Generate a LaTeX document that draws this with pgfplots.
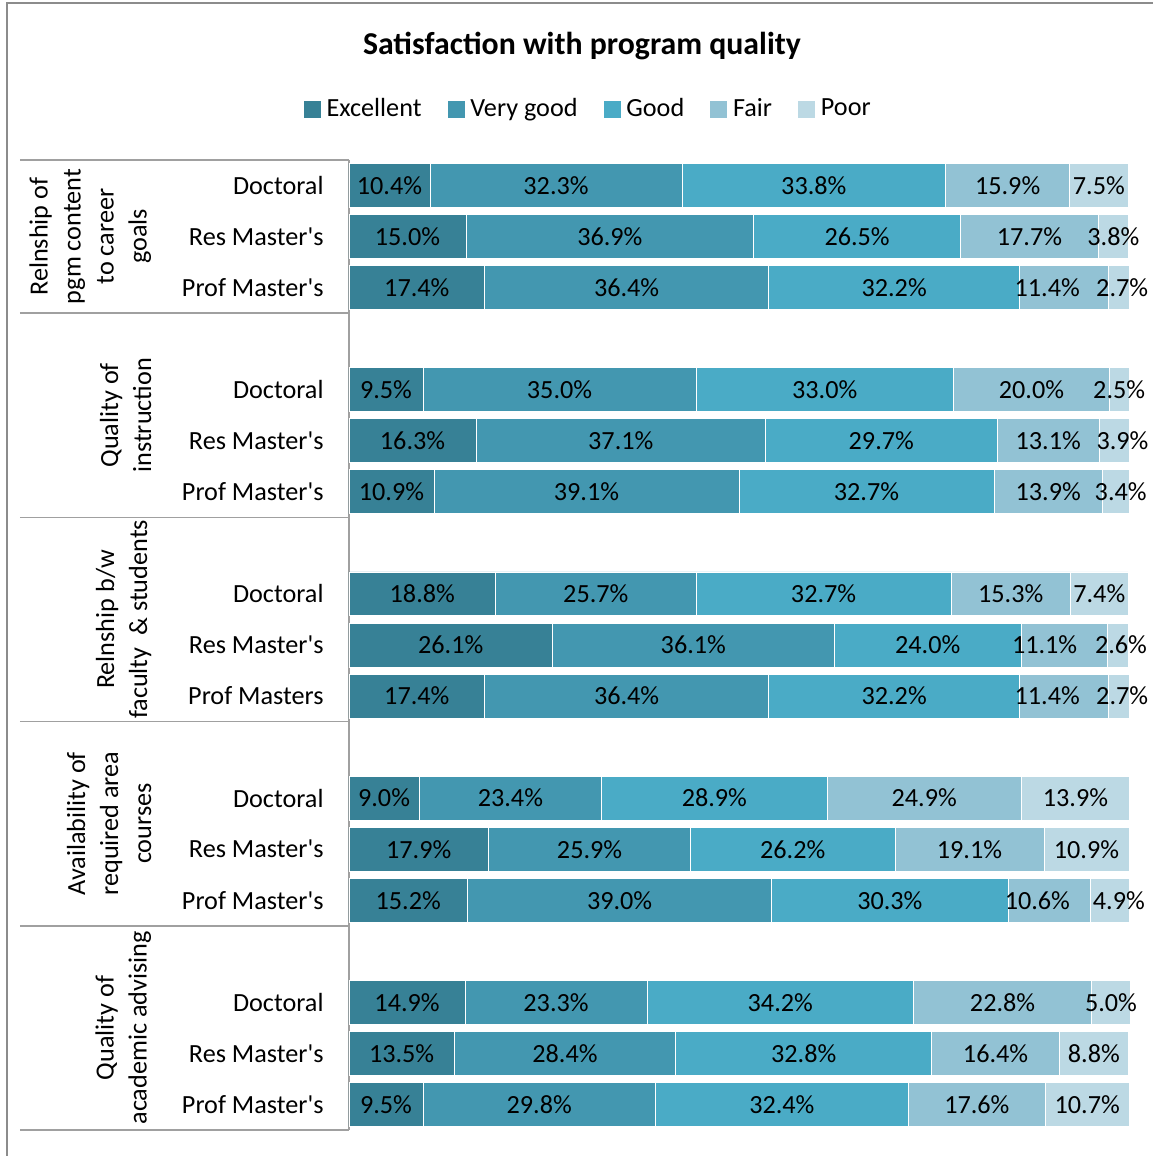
\documentclass[border=0pt]{standalone}
\usepackage{fontspec}
\setmainfont{Carlito}
\usepackage{pgfplots}
\pgfplotsset{compat=1.18}
\usepackage{pgfplotstable}
\definecolor{cEx}{RGB}{55,129,150}
\definecolor{cVg}{RGB}{67,151,176}
\definecolor{cGd}{RGB}{74,171,198}
\definecolor{cFr}{RGB}{146,194,212}
\definecolor{cPr}{RGB}{188,217,228}
\definecolor{lineGray}{RGB}{160,160,160}
\definecolor{frameGray}{RGB}{140,140,140}
\newcommand\lbl{\fontsize{13.1pt}{16.5pt}\selectfont}

% fs, ps: horizontal nudges (px) of the Fair and Poor data labels
\pgfplotstableread{
slot ex vg gd fr pr fs ps
0 10.4 32.3 33.8 15.9 7.5 0 0
1 15.0 36.9 26.5 17.7 3.8 0 0
2 17.4 36.4 32.2 11.4 2.7 -17 3
4 9.5 35.0 33.0 20.0 2.5 0 0
5 16.3 37.1 29.7 13.1 3.9 0 8
6 10.9 39.1 32.7 13.9 3.4 0 5
8 18.8 25.7 32.7 15.3 7.4 0 0
9 26.1 36.1 24.0 11.1 2.6 -20 3
10 17.4 36.4 32.2 11.4 2.7 -17 3
12 9.0 23.4 28.9 24.9 13.9 0 0
13 17.9 25.9 26.2 19.1 10.9 0 0
14 15.2 39.0 30.3 10.6 4.9 -12 9
16 14.9 23.3 34.2 22.8 5.0 0 0
17 13.5 28.4 32.8 16.4 8.8 0 0
18 9.5 29.8 32.4 17.6 10.7 0 0
}\data

\pgfplotsset{
 segment/.style={
   fill=#1, draw=white, line width=0.4pt,
   legend image code/.code={\fill[#1] (0pt,-4pt) rectangle (8pt,4pt);},
   visualization depends on=rawx \as \rawx,
   nodes near coords={\pgfmathprintnumber[fixed,fixed zerofill,precision=1,assume math mode=true]{\rawx}\%},
   every node near coord/.append style={anchor=center, font=\lbl, text=black, inner sep=0pt},
 },
 lshift/.style={
   visualization depends on={\thisrow{#1} \as \lsh},
   every node near coord/.append style={xshift=0.5pt*\lsh},
 }
}

\begin{document}
\begin{tikzpicture}
\begin{axis}[
  scale only axis, width=390pt, height=485pt,
  xbar stacked, bar width=0.86,
  xmin=0, xmax=100, ymin=-0.5, ymax=18.5, y dir=reverse,
  axis x line=none, axis y line*=left,
  y axis line style={-, draw=lineGray, line width=0.75pt},
  ytick={0,1,2,4,5,6,8,9,10,12,13,14,16,17,18},
  yticklabels={Doctoral,Res Master\textquotesingle s,Prof Master\textquotesingle s,
               Doctoral,Res Master\textquotesingle s,Prof Master\textquotesingle s,
               Doctoral,Res Master\textquotesingle s,Prof Masters,
               Doctoral,Res Master\textquotesingle s,Prof Master\textquotesingle s,
               Doctoral,Res Master\textquotesingle s,Prof Master\textquotesingle s},
  yticklabel style={font=\lbl, anchor=east, inner sep=0pt, xshift=-12.5pt},
  major tick length=0pt, ytick style={draw=none},
  clip=false,
  legend columns=5,
  legend style={draw=none, at={(axis description cs:0.3055,1.0525)}, anchor=center, font=\lbl,
    /tikz/every odd column/.append style={column sep=3pt},
    /tikz/every even column/.append style={column sep=13pt},
    nodes={inner sep=0pt}},
  legend cell align=left,
]
\addplot[segment=cEx] table[x=ex,y=slot]{\data};
\addplot[segment=cVg] table[x=vg,y=slot]{\data};
\addplot[segment=cGd] table[x=gd,y=slot]{\data};
\addplot[segment=cFr, lshift=fs] table[x=fr,y=slot]{\data};
\addplot[segment=cPr, lshift=ps] table[x=pr,y=slot]{\data};
\legend{Excellent,Very good,Good,Fair,Poor}

\node[font=\fontsize{15.9pt}{19pt}\selectfont\bfseries] at (axis cs:29.87,-2.73) {Satisfaction with program quality};

\node[rotate=90, anchor=south, align=center, inner sep=0pt, font=\lbl] at (axis cs:-25.3,1) {Relnship of\\pgm content\\to career\\goals};
\node[rotate=90, anchor=south, align=center, inner sep=0pt, font=\lbl] at (axis cs:-25.3,4.5) {Quality of\\instruction};
\node[rotate=90, anchor=south, align=center, inner sep=0pt, font=\lbl] at (axis cs:-25.3,8.5) {Relnship b/w\\faculty\ \ \& students};
\node[rotate=90, anchor=south, align=center, inner sep=0pt, font=\lbl] at (axis cs:-25.3,12.5) {Availability of\\required area\\courses};
\node[rotate=90, anchor=south, align=center, inner sep=0pt, font=\lbl] at (axis cs:-25.3,16.5) {Quality of\\academic advising};

\draw[lineGray, line width=0.75pt] (axis cs:-42.2,-0.5) -- (axis cs:0,-0.5);
\draw[lineGray, line width=0.75pt] (axis cs:-42.2,2.5) -- (axis cs:0,2.5);
\draw[lineGray, line width=0.75pt] (axis cs:-42.2,6.5) -- (axis cs:0,6.5);
\draw[lineGray, line width=0.75pt] (axis cs:-42.2,10.5) -- (axis cs:0,10.5);
\draw[lineGray, line width=0.75pt] (axis cs:-42.2,14.5) -- (axis cs:0,14.5);
\draw[lineGray, line width=0.75pt] (axis cs:-42.2,18.5) -- (axis cs:0,18.5);

\draw[frameGray, line width=1pt] (axis cs:-43.85,19.01) -- (axis cs:-43.85,-3.575) -- (axis cs:103.1,-3.575);

\coordinate (bbtl) at (axis cs:-44.74,-3.634);
\coordinate (bbbr) at (axis cs:103.1,19.01);
\end{axis}
\pgfresetboundingbox
\path[use as bounding box] (bbtl) rectangle (bbbr);
\end{tikzpicture}
\end{document}
